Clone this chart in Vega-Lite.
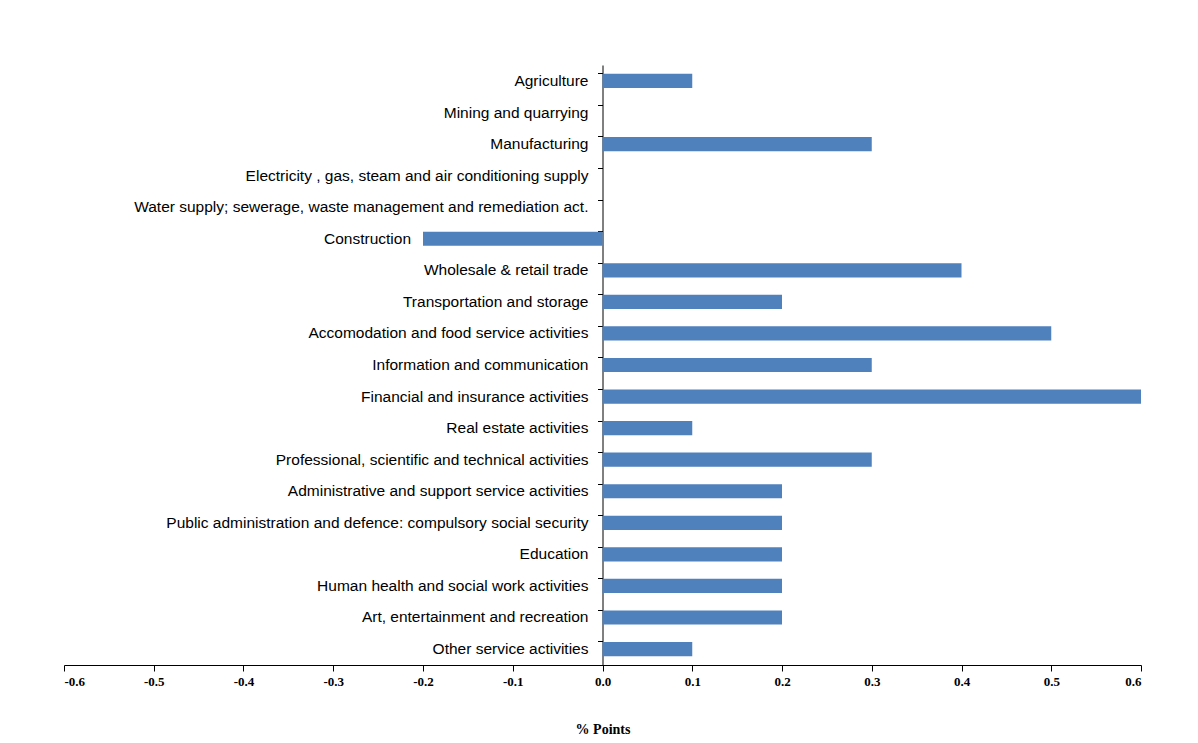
{
  "$schema": "https://vega.github.io/schema/vega-lite/v6.json",
  "width": 1077,
  "height": 600,
  "autosize": "none",
  "padding": {"left": 64, "top": 65, "right": 57, "bottom": 78},
  "background": "white",
  "config": {"view": {"stroke": null}, "font": "Liberation Sans"},
  "data": {"values": [
    {"sector": "Agriculture", "value": 0.1},
    {"sector": "Mining and quarrying", "value": 0},
    {"sector": "Manufacturing", "value": 0.3},
    {"sector": "Electricity , gas, steam and air conditioning supply", "value": 0},
    {"sector": "Water supply; sewerage, waste management and remediation act.", "value": 0},
    {"sector": "Construction", "value": -0.2},
    {"sector": "Wholesale & retail trade", "value": 0.4},
    {"sector": "Transportation and storage", "value": 0.2},
    {"sector": "Accomodation and food service activities", "value": 0.5},
    {"sector": "Information and communication", "value": 0.3},
    {"sector": "Financial and insurance activities", "value": 0.6},
    {"sector": "Real estate activities", "value": 0.1},
    {"sector": "Professional, scientific and technical activities", "value": 0.3},
    {"sector": "Administrative and support service activities", "value": 0.2},
    {"sector": "Public administration  and defence: compulsory social security", "value": 0.2},
    {"sector": "Education", "value": 0.2},
    {"sector": "Human health and social work activities", "value": 0.2},
    {"sector": "Art, entertainment and recreation", "value": 0.2},
    {"sector": "Other service activities", "value": 0.1}
  ]},
  "encoding": {
    "y": {"field": "sector", "type": "nominal", "sort": null,
      "scale": {"paddingInner": 0.55, "paddingOuter": 0.28}}
  },
  "layer": [
    {
      "mark": {"type": "bar", "color": "#4f81bd"},
      "encoding": {
        "x": {"field": "value", "type": "quantitative",
          "scale": {"domain": [-0.6, 0.6], "nice": false},
          "axis": {"values": [-0.6,-0.5,-0.4,-0.3,-0.2,-0.1,0,0.1,0.2,0.3,0.4,0.5,0.6],
            "format": ".1f", "labelExpr": "replace(datum.label, '−', '-')",
            "grid": false, "domainColor": "black", "tickColor": "black",
            "tickSize": 6, "labelFont": "Liberation Serif", "labelFontWeight": "bold",
            "labelFontSize": 13, "labelColor": "black", "labelPadding": 4,
            "title": "% Points", "titleFont": "Liberation Serif", "titleFontSize": 14,
            "titleFontWeight": "bold", "titleColor": "black", "titlePadding": 34}},
        "x2": {"datum": 0},
        "y": {"field": "sector", "type": "nominal", "sort": null,
          "axis": {"labels": false, "title": null, "offset": -538.5, "domainColor": "black",
            "tickColor": "black", "tickSize": 5, "bandPosition": 0}}
      }
    },
    {
      "transform": [{"filter": "datum.value >= 0"}],
      "mark": {"type": "text", "align": "right", "dx": -14, "fontSize": 15.5, "color": "black"},
      "encoding": {"x": {"datum": 0, "type": "quantitative"}, "text": {"field": "sector"}}
    },
    {
      "transform": [{"filter": "datum.value < 0"}],
      "mark": {"type": "text", "align": "right", "dx": -12, "fontSize": 15.5, "color": "black"},
      "encoding": {"x": {"field": "value", "type": "quantitative"}, "text": {"field": "sector"}}
    }
  ]
}
